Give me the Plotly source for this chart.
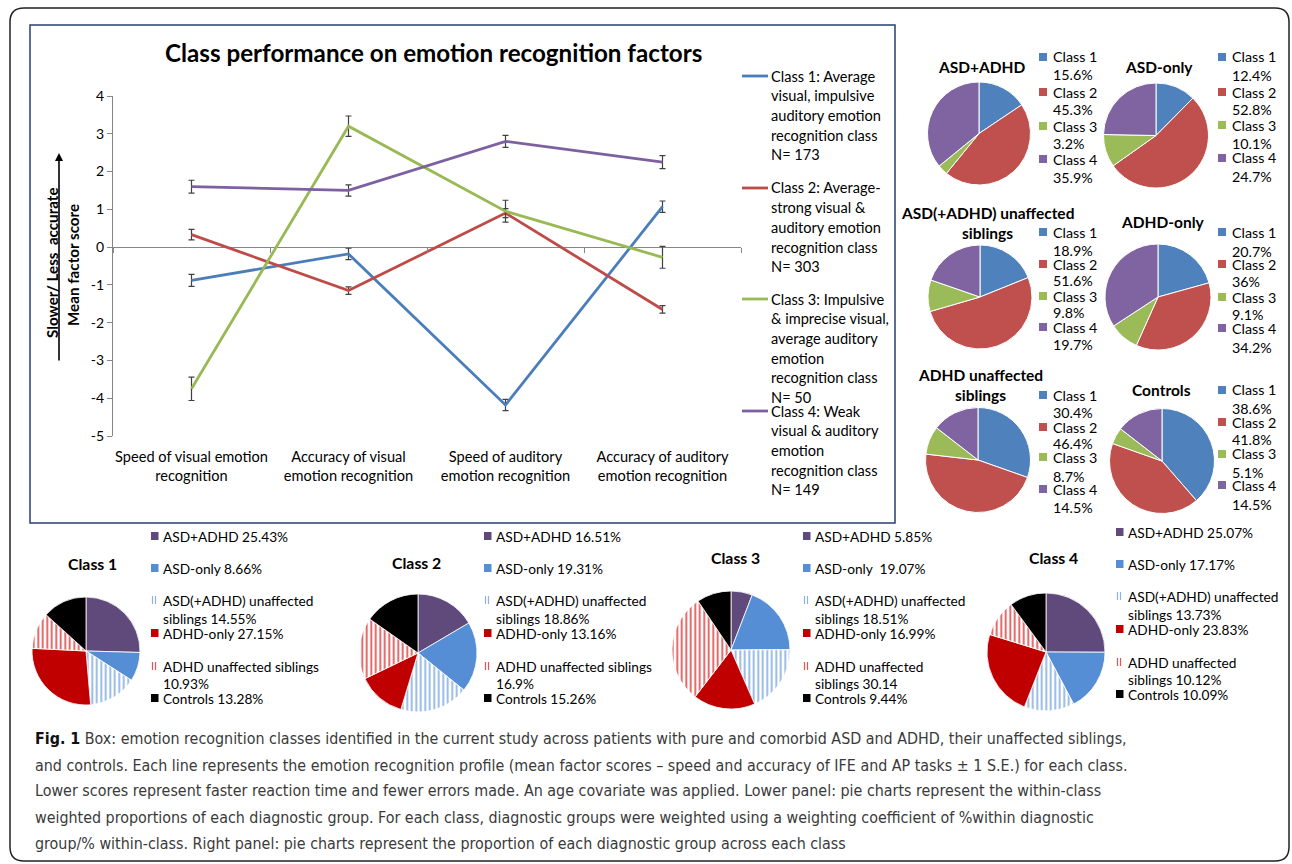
import plotly.graph_objects as go

W, H = 1292, 864
FONT = "Lato"
CAP_FONT = "DejaVu Sans Condensed, Lato"

# ------------------------------------------------------------------ data
factors = ["Speed of visual emotion<br>recognition",
           "Accuracy of visual<br>emotion recognition",
           "Speed of auditory<br>emotion recognition",
           "Accuracy of auditory<br>emotion recognition"]
chart_title = "Class performance on emotion recognition factors"
y_tick_vals = [-5, -4, -3, -2, -1, 0, 1, 2, 3, 4]
y_tick_text = ["-5", "-4", "-3", "-2", "-1", "0", "1", "2", "3", "4"]

class1_scores = [-0.88, -0.18, -4.18, 1.07]
class1_se = [0.16, 0.15, 0.15, 0.15]
class2_scores = [0.33, -1.15, 0.90, -1.65]
class2_se = [0.14, 0.10, 0.12, 0.10]
class3_scores = [-3.75, 3.20, 0.95, -0.27]
class3_se = [0.31, 0.27, 0.29, 0.29]
class4_scores = [1.60, 1.50, 2.80, 2.25]
class4_se = [0.17, 0.15, 0.16, 0.17]

class_n = [173, 303, 50, 149]
class_desc_lines = [
    ["Class 1: Average", "visual, impulsive", "auditory emotion", "recognition class"],
    ["Class 2: Average-", "strong visual &", "auditory emotion", "recognition class"],
    ["Class 3: Impulsive", "& imprecise visual,", "average auditory", "emotion", "recognition class"],
    ["Class 4: Weak", "visual & auditory", "emotion", "recognition class"],
]
class_labels = ["Class 1", "Class 2", "Class 3", "Class 4"]

# right panel: % of each diagnostic group in each class
asd_adhd_pct = [15.6, 45.3, 3.2, 35.9]
asd_only_pct = [12.4, 52.8, 10.1, 24.7]
asd_sibs_pct = [18.9, 51.6, 9.8, 19.7]
adhd_only_pct = [20.7, 36, 9.1, 34.2]
adhd_sibs_pct = [30.4, 46.4, 8.7, 14.5]
controls_pct = [38.6, 41.8, 5.1, 14.5]
group_title_lines = [["ASD+ADHD"], ["ASD-only"], ["ASD(+ADHD) unaffected", "siblings"],
                     ["ADHD-only"], ["ADHD unaffected", "siblings"], ["Controls"]]

# lower panel: weighted proportion of each diagnostic group within class
group_names = ["ASD+ADHD", "ASD-only", "ASD(+ADHD) unaffected siblings",
               "ADHD-only", "ADHD unaffected siblings", "Controls"]
class1_group_pct = [25.43, 8.66, 14.55, 27.15, 10.93, 13.28]
class2_group_pct = [16.51, 19.31, 18.86, 13.16, 16.9, 15.26]
class3_group_pct = [5.85, 19.07, 18.51, 16.99, 30.14, 9.44]
class4_group_pct = [25.07, 17.17, 13.73, 23.83, 10.12, 10.09]
# legend wording per class (value slots filled from the arrays above)
lower_legend_templates = [
    ["ASD+ADHD {}%", "ASD-only {}%", "ASD(+ADHD) unaffected", "siblings {}%",
     "ADHD-only {}%", "ADHD unaffected siblings", "{}%", "Controls {}%"],
    ["ASD+ADHD {}%", "ASD-only {}%", "ASD(+ADHD) unaffected", "siblings {}%",
     "ADHD-only {}%", "ADHD unaffected siblings", "{}%", "Controls {}%"],
    ["ASD+ADHD {}%", "ASD-only  {}%", "ASD(+ADHD) unaffected", "siblings {}%",
     "ADHD-only {}%", "ADHD unaffected", "siblings {}", "Controls {}%"],
    ["ASD+ADHD {}%", "ASD-only {}%", "ASD(+ADHD) unaffected", "siblings {}%",
     "ADHD-only {}%", "ADHD unaffected", "siblings {}%", "Controls {}%"],
]
value_rows = [0, 1, 3, 4, 6, 7]      # legend rows carrying a value
glyph_rows = [0, 1, 2, 4, 5, 7]      # legend rows carrying a swatch

caption_lines = [
    "<b><span style='color:#111111'>Fig. 1</span></b> Box: emotion recognition classes identified in the current study across patients with pure and comorbid ASD and ADHD, their unaffected siblings,",
    "and controls. Each line represents the emotion recognition profile (mean factor scores \u2013 speed and accuracy of IFE and AP tasks \u00b1 1 S.E.) for each class.",
    "Lower scores represent faster reaction time and fewer errors made. An age covariate was applied. Lower panel: pie charts represent the within-class",
    "weighted proportions of each diagnostic group. For each class, diagnostic groups were weighted using a weighting coefficient of %within diagnostic",
    "group/% within-class. Right panel: pie charts represent the proportion of each diagnostic group across each class",
]

# ------------------------------------------------------------------ styles
line_colors = ["#4A7EBB", "#BE4B48", "#98B954", "#7D60A0"]
pie_class_colors = ["#4F81BD", "#C0504D", "#9BBB59", "#8064A2"]
group_colors = ["#604A7B", "#558ED5", "#FFFFFF", "#C00000", "#FFFFFF", "#000000"]
group_stripe = ["", "", "|", "", "|", ""]
group_fg = ["#604A7B", "#558ED5", "#8DB4E2", "#C00000", "#E05555", "#000000"]


def X(p):
    return p / W


def Y(p):
    return 1 - p / H


def dom(cx, cy, r):
    return dict(x=[X(cx - r), X(cx + r)], y=[Y(cy + r), Y(cy - r)])


annotations = []
shapes = []


def txt(x, y, s, size=13.5, bold=False, color="black", xanchor="left",
        family=FONT, angle=0):
    annotations.append(dict(
        x=X(x), y=Y(y), xref="paper", yref="paper", text=("<b>%s</b>" % s) if bold else s,
        showarrow=False, xanchor=xanchor, yanchor="middle", textangle=angle,
        font=dict(family=family, size=size, color=color), borderpad=0))


def rect(x0, y0, x1, y1, fill, line_color=None, lw=0):
    shapes.append(dict(type="rect", xref="paper", yref="paper",
                       x0=X(x0), x1=X(x1), y0=Y(y1), y1=Y(y0),
                       fillcolor=fill, line=dict(color=line_color or fill, width=lw)))


def seg(x0, y0, x1, y1, color, lw):
    shapes.append(dict(type="line", xref="paper", yref="paper",
                       x0=X(x0), x1=X(x1), y0=Y(y0), y1=Y(y1),
                       line=dict(color=color, width=lw)))


fig = go.Figure()

# ------------------------------------------------------------------ line chart
PX0, PX1, PY_TOP, PY_BOT = 113, 741, 96, 436
scores = [class1_scores, class2_scores, class3_scores, class4_scores]
ses = [class1_se, class2_se, class3_se, class4_se]
for i in range(4):
    fig.add_trace(go.Scatter(
        x=factors, y=scores[i], mode="lines",
        line=dict(color=line_colors[i], width=2.8),
        error_y=dict(type="data", array=ses[i], color="#404040", thickness=1.2, width=3),
        hoverinfo="skip", xaxis="x", yaxis="y"))

y_dom = [Y(PY_BOT), Y(PY_TOP)]
zero_pos = y_dom[0] + (0 - (-5)) / 9 * (y_dom[1] - y_dom[0])

# ------------------------------------------------------------------ right pies
right_pies = [
    (asd_adhd_pct, 979, 133.5, 51.5, 982, 67, 1039, [57, 74, 92, 109, 126, 143, 159, 177]),
    (asd_only_pct, 1156, 135.5, 52.5, 1159, 67, 1218, [57, 75, 92, 109, 125, 143, 158, 176]),
    (asd_sibs_pct, 980, 297, 52, 988, 213, 1039, [232, 250, 264, 281, 296, 312, 327, 344]),
    (adhd_only_pct, 1158, 297, 53, 1163, 222, 1218, [232, 251, 264, 282, 297, 315, 328, 347]),
    (adhd_sibs_pct, 978, 460, 52.5, 980, 375, 1039, [395, 412, 427, 444, 457, 476, 489, 507]),
    (controls_pct, 1162, 461, 52.5, 1161, 390, 1218, [390, 408, 422, 439, 454, 472, 485, 505]),
]
for gi, (vals, cx, cy, r, tx, ty, lx, rows) in enumerate(right_pies):
    fig.add_trace(go.Pie(
        values=vals, labels=class_labels, sort=False, direction="clockwise", rotation=0,
        marker=dict(colors=pie_class_colors, line=dict(color="white", width=1)),
        textinfo="none", hoverinfo="skip", showlegend=False, domain=dom(cx, cy, r)))
    for k, line in enumerate(group_title_lines[gi]):
        txt(tx, ty + 20 * k, line, size=15.5, bold=True, xanchor="center")
    for c in range(4):
        y1 = rows[2 * c]
        y2 = rows[2 * c + 1]
        rect(lx, y1 - 4, lx + 8, y1 + 4, pie_class_colors[c])
        txt(lx + 13, y1, class_labels[c], size=14.3)
        txt(lx + 13, y2, "{:g}%".format(vals[c]), size=14.3)

# ------------------------------------------------------------------ lower pies
lower = [
    (class1_group_pct, 86, 651, 54, 92, 563, 151, 536),
    (class2_group_pct, 418, 653, 59, 416, 562, 484, 536),
    (class3_group_pct, 731, 650, 59, 735, 557, 803, 536),
    (class4_group_pct, 1046, 652, 59, 1053, 557, 1116, 532),
]
row_offsets = [0, 32, 64, 82, 97, 130, 147, 162]
for ci, (vals, cx, cy, r, tx, ty, lx, ly) in enumerate(lower):
    fig.add_trace(go.Pie(
        values=vals, labels=group_names, sort=False, direction="clockwise", rotation=0,
        marker=dict(colors=group_colors, line=dict(color="white", width=0.8),
                    pattern=dict(shape=group_stripe, fgcolor=group_fg,
                                 bgcolor=["white"] * 6, size=4.5, solidity=0.4,
                                 fillmode="replace")),
        textinfo="none", hoverinfo="skip", showlegend=False, domain=dom(cx, cy, r)))
    txt(tx, ty, class_labels[ci], size=15.8, bold=True, xanchor="center")
    lines = list(lower_legend_templates[ci])
    for g, row in enumerate(value_rows):
        lines[row] = lines[row].format(vals[g])
    for k, line in enumerate(lines):
        yy = ly + row_offsets[k]
        txt(lx + 11, yy, line, size=13.7)
        if k in glyph_rows:
            g = glyph_rows.index(k)
            if group_stripe[g]:
                seg(lx + 1.5, yy - 4, lx + 1.5, yy + 4, group_fg[g], 1.2)
                seg(lx + 4.5, yy - 4, lx + 4.5, yy + 4, group_fg[g], 1.2)
            else:
                rect(lx, yy - 4, lx + 7.5, yy + 4, group_fg[g])

# ------------------------------------------------------------------ line chart decorations
txt(433, 52, chart_title, size=24.2, bold=True, xanchor="center")
txt(52, 263, "Slower/ Less  accurate", size=15.2, bold=True, xanchor="center", angle=-90)
txt(73, 265, "Mean factor score", size=15.2, bold=True, xanchor="center", angle=-90)
annotations.append(dict(x=X(59), y=Y(153), xref="paper", yref="paper", text="",
                        showarrow=True, ax=0, ay=209, arrowhead=2, arrowsize=1,
                        arrowwidth=1.6, arrowcolor="black"))
legend_tops = [76, 188, 299, 411]
for i in range(4):
    y0 = legend_tops[i]
    seg(742, y0, 768, y0, line_colors[i], 2.8)
    lines = class_desc_lines[i] + ["N= %d" % class_n[i]]
    for k, line in enumerate(lines):
        txt(770, y0 + 19.7 * k, line, size=14.6)

# ------------------------------------------------------------------ caption
cap_y = [738, 765, 790, 817, 843]
for k, line in enumerate(caption_lines):
    txt(34, cap_y[k], line, size=15.9, color="#3A3A3A", family=CAP_FONT)

# ------------------------------------------------------------------ frames
shapes.append(dict(type="rect", xref="paper", yref="paper",
                   x0=X(30), x1=X(895), y0=Y(523), y1=Y(25),
                   line=dict(color="#27406F", width=1.5), fillcolor="rgba(0,0,0,0)"))
bx0, by0, bx1, by1, rr = 10, 8, 1289, 861, 14
path = ("M {a},{b} L {c},{b} Q {d},{b} {d},{e} L {d},{f} Q {d},{g} {c},{g} "
        "L {a},{g} Q {h},{g} {h},{f} L {h},{e} Q {h},{b} {a},{b} Z").format(
    a=X(bx0 + rr), b=Y(by0), c=X(bx1 - rr), d=X(bx1), e=Y(by0 + rr),
    f=Y(by1 - rr), g=Y(by1), h=X(bx0))
shapes.append(dict(type="path", xref="paper", yref="paper", path=path,
                   line=dict(color="#222222", width=1.5), fillcolor="rgba(0,0,0,0)"))

fig.update_layout(
    width=W, height=H, margin=dict(l=0, r=0, t=0, b=0, pad=0, autoexpand=False),
    paper_bgcolor="white", plot_bgcolor="rgba(0,0,0,0)", showlegend=False,
    font=dict(family=FONT, size=14, color="black"),
    xaxis=dict(domain=[X(PX0), X(PX1)], type="category", range=[-0.5, 3.5],
               showline=False, ticks="", showgrid=False, zeroline=False,
               tickfont=dict(family=FONT, size=14.6, color="black"),
               ticklabelstandoff=10, anchor="y", fixedrange=True, automargin=False),
    xaxis2=dict(overlaying="x", anchor="free", position=zero_pos, range=[-0.5, 3.5],
                tickvals=[-0.5, 0.5, 1.5, 2.5, 3.5], ticks="outside", ticklen=5,
                tickcolor="#868686", showticklabels=False, showline=False,
                showgrid=False, zeroline=False, fixedrange=True, automargin=False),
    yaxis=dict(domain=y_dom, range=[-5, 4], tickvals=y_tick_vals, ticktext=y_tick_text,
               showline=True, linecolor="#868686", linewidth=1, ticks="outside",
               ticklen=5, tickcolor="#868686", showgrid=False, zeroline=True,
               zerolinecolor="#868686", zerolinewidth=1, automargin=False,
               tickfont=dict(family=FONT, size=14, color="black"), fixedrange=True),
    annotations=annotations, shapes=shapes,
)
# invisible point on xaxis2 so that the crossing axis ticks are drawn
fig.add_trace(go.Scatter(x=[-0.5], y=[0], xaxis="x2", yaxis="y", mode="markers",
                         marker=dict(opacity=0), hoverinfo="skip", showlegend=False))

fig.write_html("out.html", config={"displayModeBar": False},
               post_script="document.body.style.margin='0';")
